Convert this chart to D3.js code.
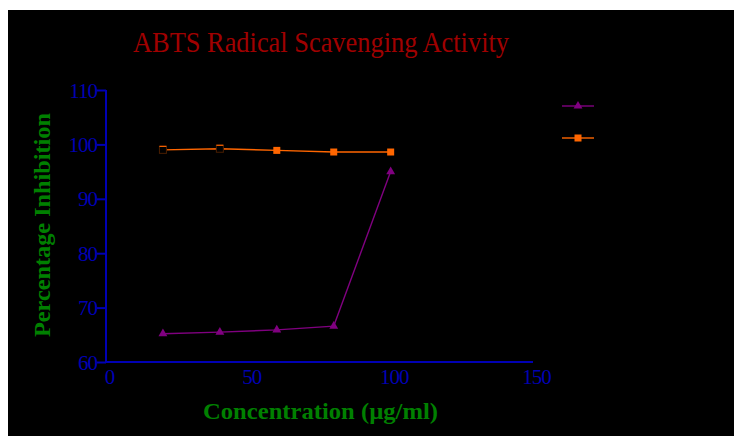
<!DOCTYPE html>
<html><head><meta charset="utf-8">
<script src="https://cdn.jsdelivr.net/npm/d3@7"></script>
<style>body{margin:0;background:#fff}svg{display:block}</style>
</head><body>
<script>
const concentrations = [20, 40, 60, 80, 100];
const seriesA = [65.2, 65.5, 65.9, 66.6, 95.0];   // purple triangles
const seriesB = [99.0, 99.2, 98.9, 98.6, 98.6];   // orange squares
const yTicks = [60, 70, 80, 90, 100, 110];
const xTicks = [0, 50, 100, 150];
const titleText = "ABTS Radical Scavenging Activity";
const xLabel = "Concentration (µg/ml)";
const yLabel = "Percentage Inhibition";

const W = 734, H = 436;
const svg = d3.select("body").append("svg").attr("width", W).attr("height", H);
svg.append("rect").attr("x", 8).attr("y", 10).attr("width", W - 8).attr("height", H - 10).attr("fill", "#000");

const x = d3.scaleLinear().domain([0, 150]).range([106, 533]);
const y = d3.scaleLinear().domain([60, 110]).range([362, 90]);
const blue = "#0000b4";
const font = "'Liberation Serif','Times New Roman',serif";

// Y axis
const ya = svg.append("g").attr("transform", `translate(${x(0)},0)`)
  .call(d3.axisLeft(y).tickValues(yTicks).tickSize(9).tickPadding(0).tickFormat(d3.format("d")));
ya.select(".domain").attr("stroke", blue).attr("stroke-width", 2).attr("d", `M0,${y(110)}V${y(60)}`);
ya.selectAll(".tick line").attr("stroke", blue).attr("stroke-width", 2);
ya.selectAll(".tick text").attr("fill", blue).attr("font-family", font).attr("font-size", 21)
  .attr("letter-spacing", "-1px").attr("dy", "0.34em");

// X axis
const xa = svg.append("g").attr("transform", `translate(0,${y(60)})`)
  .call(d3.axisBottom(x).tickValues(xTicks).tickSize(0).tickPadding(7).tickFormat(d3.format("d")));
xa.select(".domain").attr("stroke", blue).attr("stroke-width", 2).attr("d", `M${x(0)},0H${x(150)}`);
xa.selectAll(".tick text").attr("fill", blue).attr("font-family", font).attr("font-size", 21)
  .attr("letter-spacing", "-1px").attr("dx", "3px");

// Title
svg.append("text").attr("x", 133).attr("y", 52).attr("fill", "#a00000")
  .attr("font-family", font).attr("font-size", 29)
  .attr("textLength", 376).attr("lengthAdjust", "spacingAndGlyphs").text(titleText);

// Axis labels
svg.append("text").attr("x", 203).attr("y", 419).attr("fill", "#008000")
  .attr("font-family", font).attr("font-size", 24).attr("font-weight", "bold")
  .attr("textLength", 235).attr("lengthAdjust", "spacingAndGlyphs").text(xLabel);
svg.append("text").attr("transform", "translate(50,337) rotate(-90)").attr("fill", "#008000")
  .attr("font-family", font).attr("font-size", 24).attr("font-weight", "bold")
  .attr("textLength", 224).attr("lengthAdjust", "spacingAndGlyphs").text(yLabel);

// Lines
const line = d3.line().x(d => x(d[0])).y(d => y(d[1]));
const dataA = concentrations.map((c, i) => [c, seriesA[i]]);
const dataB = concentrations.map((c, i) => [c, seriesB[i]]);
const purple = "#800080", orange = "#ff6600";

svg.append("path").attr("d", line(dataA)).attr("fill", "none").attr("stroke", purple).attr("stroke-width", 1.4);
svg.append("path").attr("d", line(dataB)).attr("fill", "none").attr("stroke", orange).attr("stroke-width", 1.4);

const tri = d3.symbol().type(d3.symbolTriangle).size(34);
svg.selectAll(".ta").data(dataA).join("path")
  .attr("transform", d => `translate(${x(d[0])},${y(d[1])})`)
  .attr("d", tri).attr("fill", purple);

svg.selectAll(".sb").data(dataB).join("rect")
  .attr("x", d => x(d[0]) - 3.5).attr("y", d => y(d[1]) - 3.5)
  .attr("width", 7).attr("height", 7)
  .attr("fill", (d, i) => i < 2 ? "#000" : orange)
  .attr("stroke", (d, i) => i < 2 ? "#4a1e00" : "none");
svg.selectAll(".sbt").data(dataB.slice(0, 2)).join("line")
  .attr("x1", d => x(d[0]) - 3.5).attr("x2", d => x(d[0]) + 3.5)
  .attr("y1", d => y(d[1]) - 3.5).attr("y2", d => y(d[1]) - 3.5)
  .attr("stroke", orange).attr("stroke-width", 1.2);

// Legend
const legend = [{color: purple, shape: "tri"}, {color: orange, shape: "sq"}];
const lg = svg.selectAll(".lg").data(legend).join("g")
  .attr("transform", (d, i) => `translate(578,${106 + i * 32})`);
lg.append("line").attr("x1", -16).attr("x2", 16).attr("stroke", d => d.color).attr("stroke-width", 1.4);
lg.filter(d => d.shape === "tri").append("path").attr("d", tri).attr("fill", d => d.color);
lg.filter(d => d.shape === "sq").append("rect").attr("x", -3.5).attr("y", -3.5).attr("width", 7).attr("height", 7).attr("fill", d => d.color);
</script>
</body></html>
